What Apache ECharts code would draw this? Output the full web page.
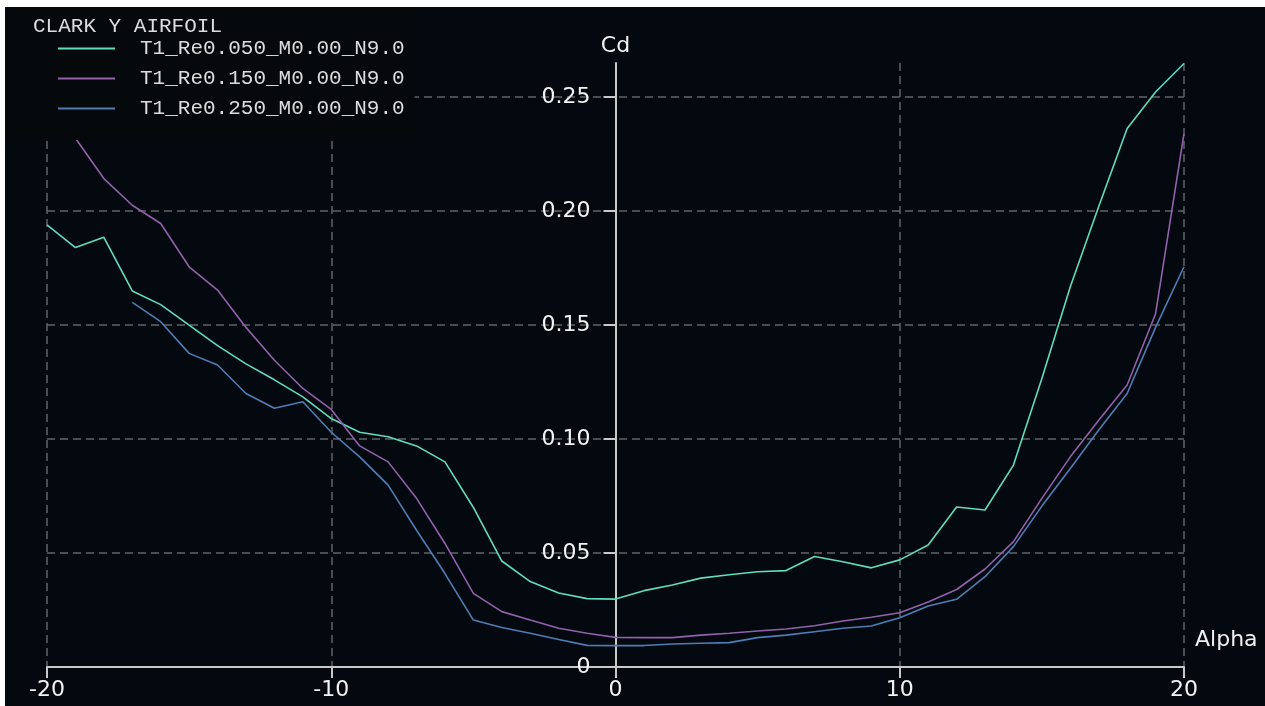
<!DOCTYPE html>
<html>
<head>
<meta charset="utf-8">
<title>CLARK Y AIRFOIL</title>
<script src="https://cdn.jsdelivr.net/npm/echarts@6/dist/echarts.min.js"></script>
<style>
  html, body { margin: 0; padding: 0; background: #ffffff; }
  #chart { position: absolute; left: 5px; top: 7px; width: 1260px; height: 699px; background: #03090f; }
</style>
</head>
<body>
<div id="chart"></div>
<script>
// Angle of attack (degrees)
const alpha = [
  -20, -19, -18, -17, -16, -15, -14, -13, -12, -11,
  -10, -9, -8, -7, -6, -5, -4, -3, -2, -1,
  0, 1, 2, 3, 4, 5, 6, 7, 8, 9,
  10, 11, 12, 13, 14, 15, 16, 17, 18, 19, 20
];

// Drag coefficient, Re = 50 000
const cdRe050 = [
  0.194, 0.184, 0.1885, 0.165, 0.159, 0.150, 0.141, 0.133, 0.126, 0.1185,
  0.109, 0.103, 0.101, 0.097, 0.090, 0.070, 0.0465, 0.0375, 0.0325, 0.030,
  0.0298, 0.0335, 0.036, 0.039, 0.0405, 0.0418, 0.0423, 0.0485, 0.0462, 0.0435,
  0.047, 0.0535, 0.0702, 0.0689, 0.0886, 0.1266, 0.1668, 0.202, 0.2363, 0.2523, 0.2648
];

// Drag coefficient, Re = 150 000
const cdRe150 = [
  0.249, 0.232, 0.2143, 0.2026, 0.1946, 0.1756, 0.1654, 0.149, 0.1346, 0.1222,
  0.113, 0.097, 0.090, 0.074, 0.0542, 0.0323, 0.0243, 0.0206, 0.017, 0.0148,
  0.013, 0.0129, 0.0129, 0.014, 0.0148, 0.0158, 0.0167, 0.0181, 0.0202, 0.0218,
  0.0238, 0.0285, 0.034, 0.043, 0.055, 0.074, 0.0922, 0.1083, 0.1237, 0.155, 0.234
];

// Drag coefficient, Re = 250 000 (no converged points below -17 deg)
const cdRe250 = [
  null, null, null, 0.160, 0.1515, 0.1376, 0.1325, 0.120, 0.1135, 0.1164,
  0.103, 0.0922, 0.0798, 0.060, 0.041, 0.0206, 0.0173, 0.0148, 0.0121, 0.0095,
  0.0094, 0.0094, 0.0101, 0.0104, 0.0107, 0.0129, 0.014, 0.0155, 0.017, 0.018,
  0.0216, 0.0268, 0.0297, 0.0396, 0.0528, 0.0706, 0.0871, 0.104, 0.120, 0.149, 0.1756
];

const seriesNames = ['T1_Re0.050_M0.00_N9.0', 'T1_Re0.150_M0.00_N9.0', 'T1_Re0.250_M0.00_N9.0'];
const seriesColors = ['#62dcbd', '#9360ab', '#4f7db5'];

const xTicks = [-20, -10, 0, 10, 20];
const xTickLabels = ['-20', '-10', '0', '10', '20'];
const yTicks = [0, 0.05, 0.10, 0.15, 0.20, 0.25];
const yTickLabels = ['0', '0.05', '0.10', '0.15', '0.20', '0.25'];

const chartTitle = 'CLARK Y AIRFOIL';

function pairs(values) {
  const out = [];
  values.forEach((v, i) => { if (v !== null) out.push([alpha[i], v]); });
  return out;
}

function labelFor(ticks, labels) {
  return function (v) {
    for (let i = 0; i < ticks.length; i++) {
      if (Math.abs(ticks[i] - v) < 1e-9) return labels[i];
    }
    return '';
  };
}

const axisFont = 'DejaVu Sans, Verdana, sans-serif';
const monoFont = 'Liberation Mono, Courier New, monospace';
const gridLine = { show: true, lineStyle: { color: '#626466', width: 1.5, type: [8, 5] } };

const GRID_LEFT = 42;
const GRID_RIGHT = 81;
const PLOT_WIDTH = 1260 - GRID_LEFT - GRID_RIGHT;

const chart = echarts.init(document.getElementById('chart'), null, { renderer: 'canvas' });

chart.setOption({
  backgroundColor: '#03090f',
  animation: false,
  title: {
    text: chartTitle,
    left: 28,
    top: 9,
    padding: 0,
    textStyle: { color: '#dcdcdc', fontFamily: monoFont, fontSize: 21, fontWeight: 'normal', lineHeight: 20 }
  },
  // legend box doubles as the dark panel behind the title
  legend: {
    orient: 'vertical',
    left: 0,
    top: 0,
    padding: [31, 10, 21, 53],
    backgroundColor: '#06090b',
    itemGap: 9,
    itemWidth: 57,
    itemHeight: 2,
    icon: 'rect',
    data: seriesNames,
    selectedMode: false,
    textStyle: {
      color: '#dcdcdc', fontFamily: monoFont, fontSize: 21, lineHeight: 20,
      padding: [0, 0, 0, 20]
    }
  },
  grid: { left: GRID_LEFT, right: GRID_RIGHT, top: 56, bottom: 39, containLabel: false, outerBoundsMode: 'none' },
  xAxis: {
    type: 'value',
    min: -20,
    max: 20,
    interval: 10,
    name: 'Alpha',
    nameLocation: 'end',
    nameGap: 11,
    nameTextStyle: {
      color: '#f0f0f0', fontFamily: axisFont, fontSize: 22,
      verticalAlign: 'bottom', lineHeight: 22, padding: [0, 0, 16, 0]
    },
    axisLine: { show: true, onZero: true, lineStyle: { color: '#c8c8c8', width: 2 } },
    axisTick: { show: true, inside: false, length: 11, lineStyle: { color: '#c8c8c8', width: 2 }, customValues: xTicks },
    axisLabel: {
      color: '#f2f2f2', fontFamily: axisFont, fontSize: 22, margin: 12,
      customValues: xTicks, formatter: labelFor(xTicks, xTickLabels)
    },
    splitLine: gridLine
  },
  yAxis: {
    type: 'value',
    min: 0,
    max: 0.265,
    interval: 0.05,
    // vertical axis drawn through alpha = 0
    offset: -PLOT_WIDTH / 2,
    name: 'Cd',
    nameLocation: 'end',
    nameGap: 6,
    nameTextStyle: { color: '#f0f0f0', fontFamily: axisFont, fontSize: 22, align: 'center' },
    axisLine: { show: true, onZero: false, lineStyle: { color: '#c8c8c8', width: 2 } },
    axisTick: { show: true, inside: false, length: 12, lineStyle: { color: '#c8c8c8', width: 2 }, customValues: yTicks },
    axisLabel: {
      color: '#f2f2f2', fontFamily: axisFont, fontSize: 22, margin: 25,
      customValues: yTicks, formatter: labelFor(yTicks, yTickLabels)
    },
    splitLine: gridLine
  },
  series: [cdRe050, cdRe150, cdRe250].map((vals, k) => ({
    name: seriesNames[k],
    type: 'line',
    data: pairs(vals),
    symbol: 'none',
    showSymbol: false,
    smooth: false,
    itemStyle: { color: seriesColors[k] },
    lineStyle: { color: seriesColors[k], width: 1.6 },
    emphasis: { disabled: true }
  }))
});
</script>
</body>
</html>
